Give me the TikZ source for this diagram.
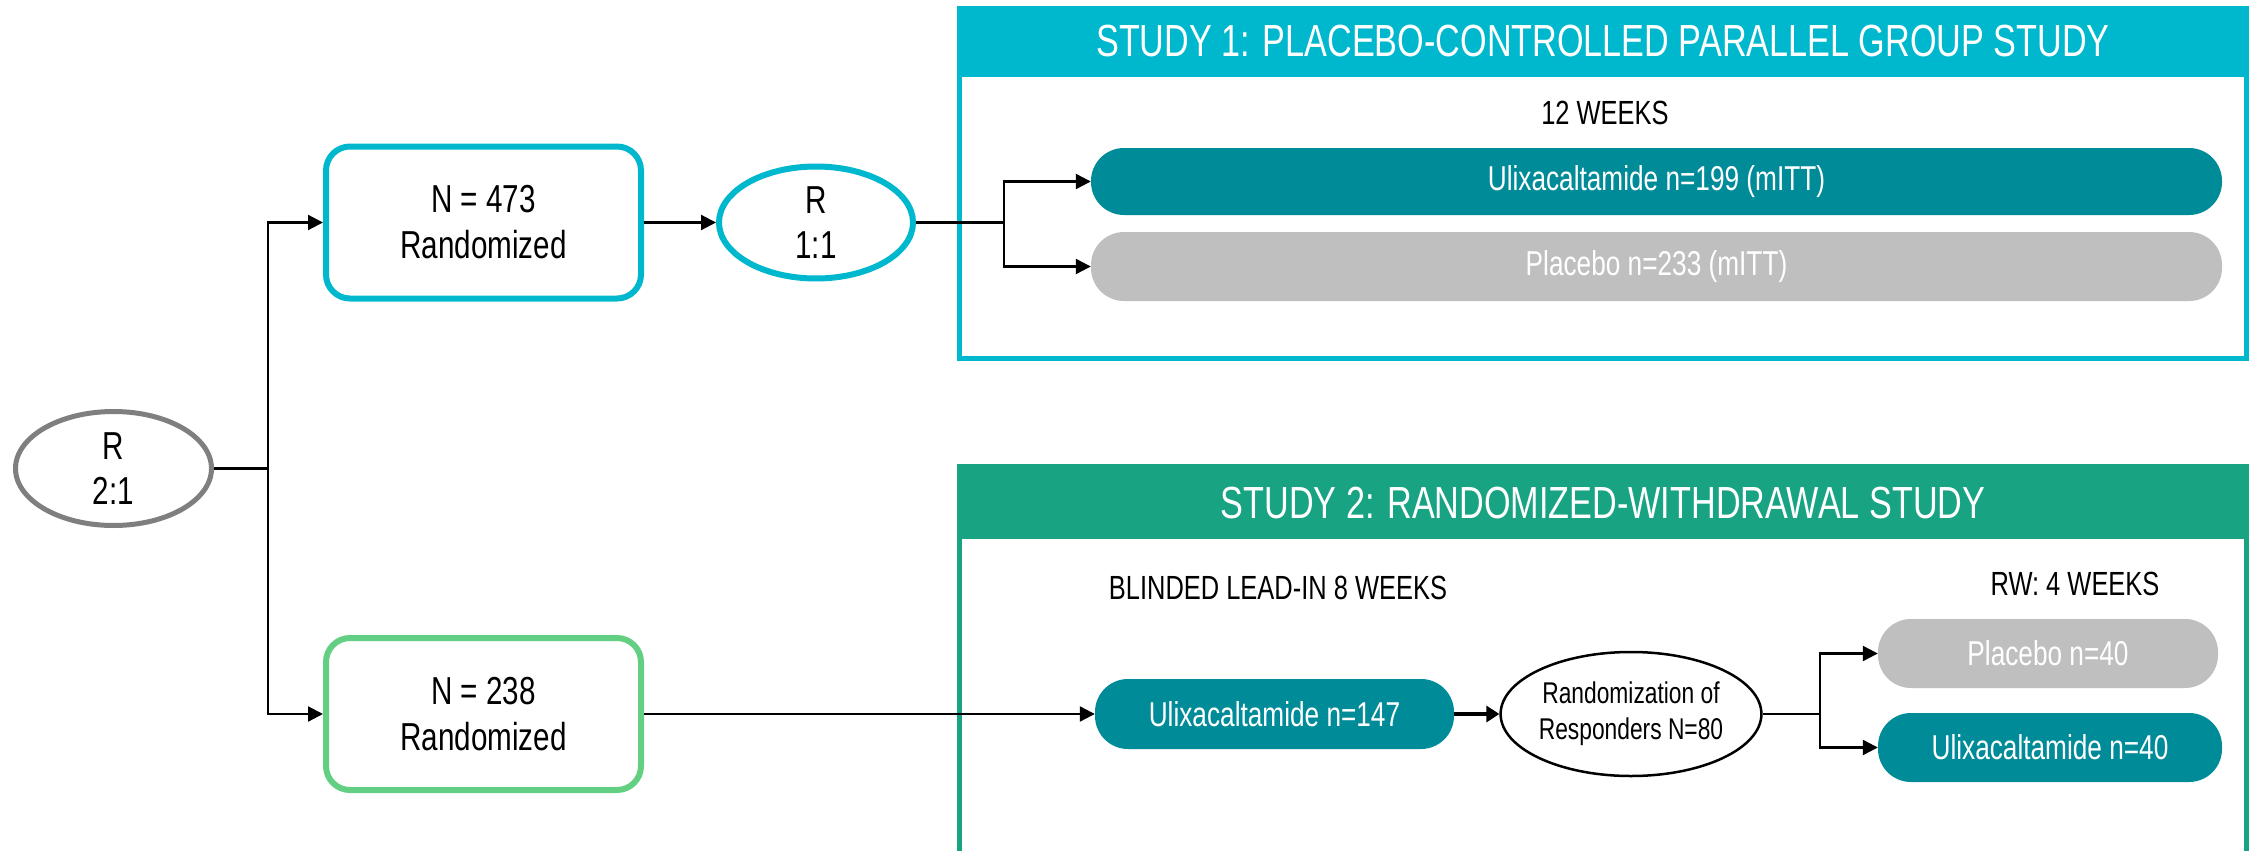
\documentclass[tikz,border=0pt]{standalone}
\usepackage{fontspec}
\setmainfont{Liberation Sans}[FakeStretch=0.76]
\usetikzlibrary{arrows.meta,shapes.geometric}
\definecolor{cyanS}{HTML}{00B8CE}
\definecolor{tealB}{HTML}{008B99}
\definecolor{grayB}{HTML}{BFBFBF}
\definecolor{greenS}{HTML}{18A383}
\definecolor{greenL}{HTML}{62CF82}
\definecolor{grayE}{HTML}{7F7F7F}
\begin{document}
\begin{tikzpicture}[x=1pt,y=-1pt,
  conn/.style={line width=2.2pt,draw=black},
  arr/.style={conn,-{Triangle[length=15pt,width=15pt]}},
  thickarr/.style={line width=4pt,draw=black,-{Triangle[length=13pt,width=16pt]}},
  rbox/.style={rectangle,rounded corners=24pt,line width=6pt,fill=white,
    minimum width=315pt,minimum height=152pt,align=center,
    font=\fontsize{39}{46}\selectfont},
  rell/.style={ellipse,line width=6pt,fill=white,inner sep=0pt,align=center,
    font=\fontsize{39}{45}\selectfont},
  bar/.style={rectangle,rounded corners=33pt,text=white,inner sep=0pt,
    font=\fontsize{34.5}{40}\selectfont},
  lbl/.style={font=\fontsize{33.5}{40}\selectfont,inner sep=0pt},
  title/.style={text=white,font=\fontsize{45}{52}\selectfont,inner sep=0pt},
  studybox/.style={line width=5pt,fill=white}
]
\useasboundingbox (0,0) rectangle (2252,851);
\clip (0,0) rectangle (2252,851);

% Study frames
\draw[studybox,draw=cyanS] (959.5,8.5) rectangle (2246.5,358.5);
\fill[cyanS] (957,6) rectangle (2249,77);
\draw[studybox,draw=greenS] (959.5,466.5) rectangle (2246.5,900);
\fill[greenS] (957,464) rectangle (2249,539);
\node[title] (t1) at (1603,41) {STUDY 1: PLACEBO-CONTROLLED PARALLEL GROUP STUDY};
\node[title] (t2) at (1603,503) {STUDY 2: RANDOMIZED-WITHDRAWAL STUDY};

% Left part
\node[rell,draw=grayE,line width=5pt,minimum width=196pt,minimum height=114pt] (r21) at (113.5,468.5) {R\\2:1};
\node[rbox,draw=cyanS] (n1) at (483.5,222.5) {N = 473\\Randomized};
\node[rbox,draw=greenL] (n2) at (483.5,714) {N = 238\\Randomized};
\node[rell,draw=cyanS,minimum width=194pt,minimum height=112pt] (r11) at (816,222.5) {R\\1:1};
\coordinate (j0) at (268,468.5);
\draw[conn] (r21.east) -- (j0);
\draw[arr] (j0) |- (n1.west);
\draw[arr] (j0) |- (n2.west);
\draw[arr] (n1.east) -- (r11.west);

% Study 1
\node[lbl] (w12) at (1605,113) {12 WEEKS};
\node[bar,fill=tealB,minimum width=1131pt,minimum height=67pt] (u199) at (1656.5,181.5) {Ulixacaltamide n=199 (mITT)};
\node[bar,fill=grayB,minimum width=1131pt,minimum height=69pt] (p233) at (1656.5,266.5) {Placebo n=233 (mITT)};
\coordinate (j1) at (1004,222.5);
\draw[conn] (r11.east) -- (j1);
\draw[arr] (j1) |- (u199.west);
\draw[arr] (j1) |- (p233.west);

% Study 2
\node[lbl] (bl) at (1278,588) {BLINDED LEAD-IN 8 WEEKS};
\node[lbl] (rw) at (2075,584) {RW: 4 WEEKS};
\node[bar,fill=tealB,minimum width=359pt,minimum height=70pt] (u147) at (1274.5,714) {Ulixacaltamide n=147};
\node[ellipse,draw=black,line width=2.5pt,fill=white,inner sep=0pt,align=center,
  minimum width=259pt,minimum height=124pt,font=\fontsize{30}{36}\selectfont] (rnd) at (1631,714) {Randomization of\\Responders N=80};
\node[bar,fill=grayB,minimum width=340pt,minimum height=69pt] (p40) at (2048,653.5) {Placebo n=40};
\node[bar,fill=tealB,minimum width=344pt,minimum height=69pt] (u40) at (2050,747.5) {Ulixacaltamide n=40};
\draw[arr] (n2.east) -- (u147.west);
\draw[thickarr] (u147.east) -- (rnd.west);
\coordinate (j2) at (1820,714);
\draw[conn] (rnd.east) -- (j2);
\draw[arr] (j2) |- (p40.west);
\draw[arr] (j2) |- (u40.west);
\end{tikzpicture}
\end{document}
